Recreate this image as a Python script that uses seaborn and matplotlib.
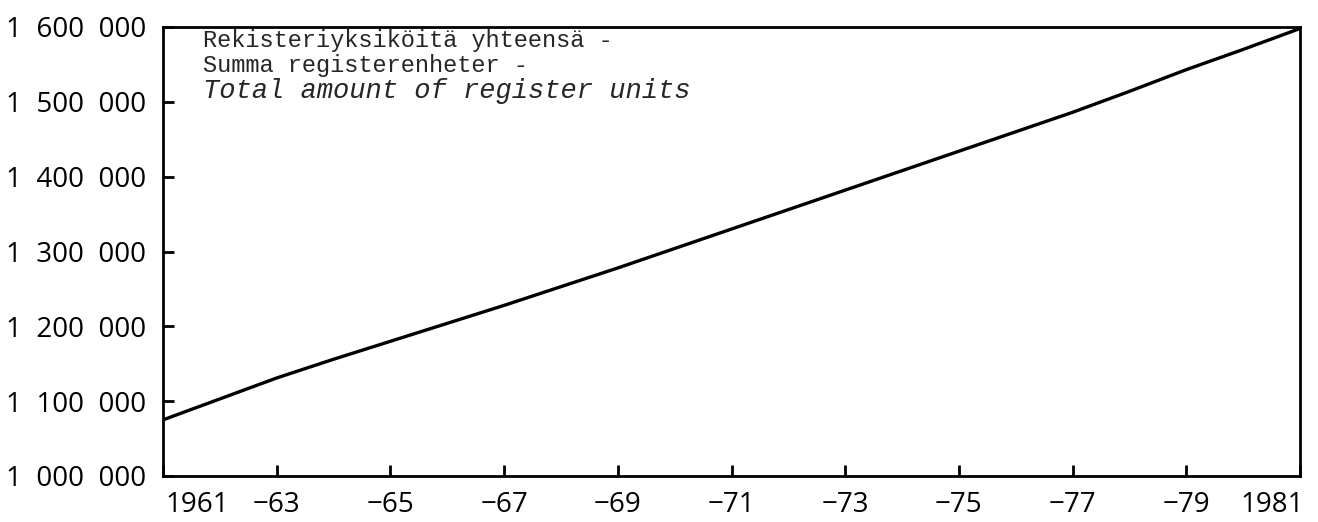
import matplotlib
matplotlib.use("Agg")
import matplotlib.pyplot as plt
import matplotlib.transforms as mtransforms
import numpy as np
import pandas as pd
import seaborn as sns

# Register units per year
years = list(range(1961, 1982))
units = [1075000, 1103000, 1131000, 1156000, 1180000, 1204000, 1228000,
         1253000, 1278000, 1304000, 1330000, 1356000, 1382000, 1408000,
         1434000, 1460000, 1486000, 1514000, 1543000, 1570000, 1598000]

xtick_years = list(range(1961, 1982, 2))
xtick_labels = ["1961", "\u221263", "\u221265", "\u221267", "\u221269", "\u221271",
                "\u221273", "\u221275", "\u221277", "\u221279", "1981"]
ytick_values = [1000000, 1100000, 1200000, 1300000, 1400000, 1500000, 1600000]
ytick_labels = ["1  000  000", "1  100  000", "1  200  000", "1  300  000",
                "1  400  000", "1  500  000", "1  600  000"]

label_lines = ["Rekisteriyksiköitä yhteensä -",
               "Summa registerenheter -",
               "Total amount of register units"]

df = pd.DataFrame({"year": years, "units": units})

sns.set_style("ticks")
plt.rcParams["font.family"] = ["Open Sans", "DejaVu Sans"]

fig = plt.figure(figsize=(13.18, 5.22), dpi=100)
ax = fig.add_axes([163 / 1318, 1 - 476 / 522, 1137 / 1318, 449 / 522])

sns.lineplot(data=df, x="year", y="units", color="black", linewidth=2.4, ax=ax)

ax.set_xlim(1961, 1981)
ax.set_ylim(1000000, 1600000)
ax.set_xticks(xtick_years)
ax.set_xticklabels(xtick_labels)
ax.set_yticks(ytick_values)
ax.set_yticklabels(ytick_labels)
ax.set_xlabel("")
ax.set_ylabel("")

for s in ax.spines.values():
    s.set_visible(True)
    s.set_linewidth(2)
    s.set_color("black")

ax.tick_params(axis="both", direction="in", length=8, width=2, colors="black",
               labelsize=20)
ax.tick_params(axis="y", pad=12)
ax.tick_params(axis="x", pad=11)

# first and last year labels sit inside the axis ends, like the original
xlabs = ax.get_xticklabels()
xlabs[0].set_transform(xlabs[0].get_transform() +
                       mtransforms.ScaledTranslation(34 / 100, 0, fig.dpi_scale_trans))
xlabs[-1].set_transform(xlabs[-1].get_transform() +
                        mtransforms.ScaledTranslation(-28 / 100, 0, fig.dpi_scale_trans))

# legend-like label in the upper left, typewriter style
ax.text(0.035, 0.971, label_lines[0], transform=ax.transAxes, va="center", ha="left",
        family="Liberation Mono", fontsize=17)
ax.text(0.035, 0.915, label_lines[1], transform=ax.transAxes, va="center", ha="left",
        family="Liberation Mono", fontsize=17)
ax.text(0.035, 0.858, label_lines[2], transform=ax.transAxes, va="center", ha="left",
        family="Liberation Mono", style="italic", fontsize=19.5)

fig.savefig("out.png", dpi=100)
